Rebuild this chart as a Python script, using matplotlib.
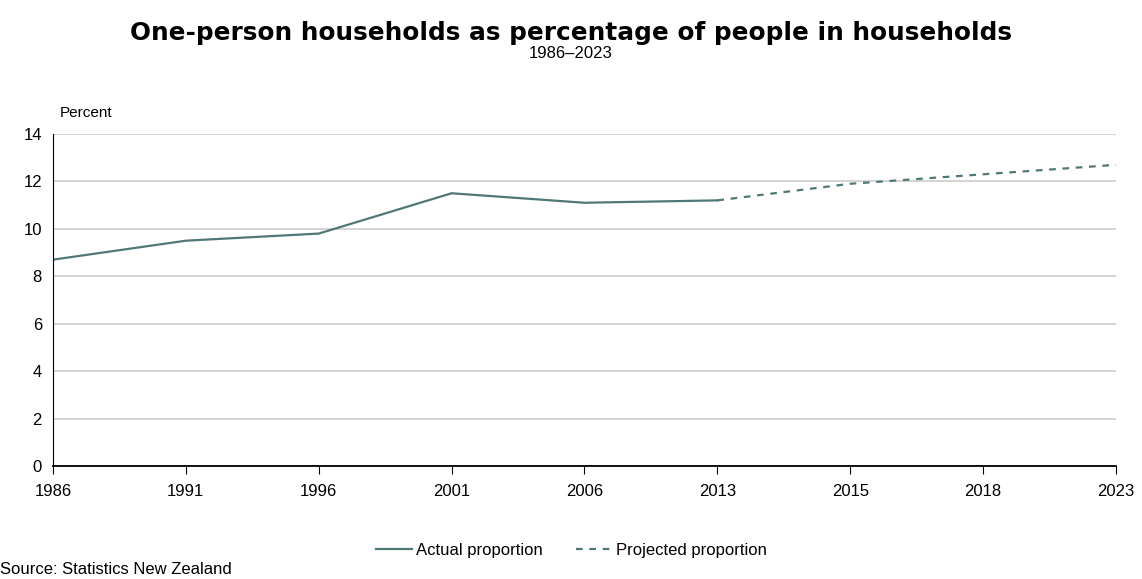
import numpy as np
import matplotlib.pyplot as plt

years = ["1986", "1991", "1996", "2001", "2006", "2013", "2015", "2018", "2023"]
actual = [8.7, 9.5, 9.8, 11.5, 11.1, 11.2]
projected = [11.2, 11.9, 12.3, 12.7]

line_col = "#4f7877"
plt.rcParams['font.family'] = ['Liberation Sans', 'DejaVu Sans']

fig = plt.figure(figsize=(11.42, 5.79), dpi=100)
ax = fig.add_axes([0.0464, 0.1952, 0.9308, 0.5734])

x = np.arange(len(years))
ax.plot(x[:len(actual)], actual, color=line_col, lw=1.6, label="Actual proportion")
ax.plot(x[len(actual) - 1:], projected, color=line_col, lw=1.6, ls=(0, (3, 3)),
        label="Projected proportion")

ax.set_xlim(0, len(years) - 1)
ax.set_ylim(0, 14)
ax.set_xticks(x)
ax.set_xticklabels(years, fontsize=12)
ax.set_yticks(range(0, 15, 2))
ax.tick_params(axis='y', length=0, labelsize=12, pad=8)
ax.tick_params(axis='x', length=6, direction='out', pad=7, color='black')
ax.yaxis.grid(True, color='#cccccc', lw=1.2)
ax.set_axisbelow(True)
for s in ['top', 'right']:
    ax.spines[s].set_visible(False)
ax.spines['left'].set_color('black')
ax.spines['bottom'].set_color('black')
ax.spines['bottom'].set_linewidth(1.3)

# title + subtitle
fig.text(0.5, 0.943, "One-person households as percentage of people in households",
         ha='center', va='center', fontsize=17.8, fontweight='bold', family='DejaVu Sans')
fig.text(0.5, 0.908, "1986\u20132023", ha='center', va='center', fontsize=12)
fig.text(0.052, 0.805, "Percent", ha='left', va='center', fontsize=11)

fig.legend(loc='center', bbox_to_anchor=(0.5, 0.05), ncol=2, frameon=False,
           fontsize=12, handlelength=2.2, handletextpad=0.2, columnspacing=2)
fig.text(0.0, 0.003, "Source: Statistics New Zealand", ha='left', va='bottom', fontsize=12)

fig.savefig("out.png", dpi=100)
